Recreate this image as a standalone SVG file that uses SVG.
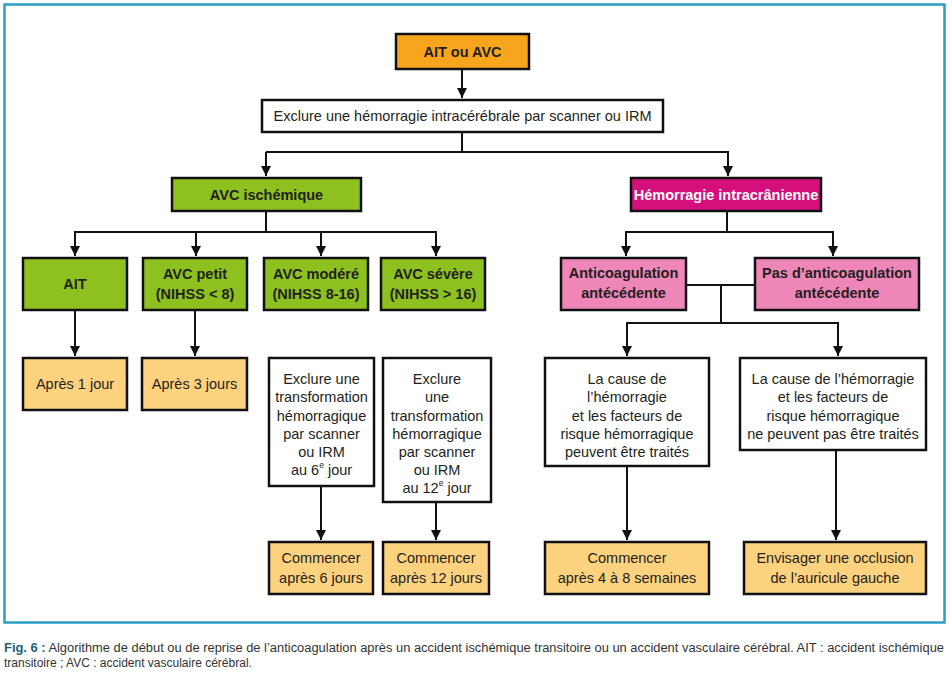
<svg xmlns="http://www.w3.org/2000/svg" width="952" height="677" viewBox="0 0 952 677">
<defs>
<marker id="ah" viewBox="0 0 10 10" refX="10" refY="5" markerWidth="10" markerHeight="10" markerUnits="userSpaceOnUse" orient="auto">
<path d="M0,0 L10,5 L0,10 z" fill="#111"/>
</marker>
<style>
.box{stroke:#111;stroke-width:2.5}
.w{fill:#fff}
.o{fill:#f6a51c}
.lo{fill:#fdd27f}
.g{fill:#8dc11f}
.m{fill:#d50f7c}
.p{fill:#ee87b7}
.t{font-family:"Liberation Sans",Arial,sans-serif;font-size:14.5px;fill:#231f20;text-anchor:middle;dominant-baseline:central}
.b{font-weight:bold}
.wt{fill:#fff}
.c{fill:none;stroke:#111;stroke-width:2}
.sup{font-size:8.5px}
.cap{font-family:"Liberation Sans",Arial,sans-serif;font-size:12px;fill:#333}
</style>
</defs>
<rect x="0" y="0" width="952" height="677" fill="#fff"/>
<rect x="4.5" y="4.5" width="940" height="618" fill="none" stroke="#2a9fc3" stroke-width="2.5"/>

<g id="connectors">
<path class="c" d="M462,69 V98" marker-end="url(#ah)"/>
<path class="c" d="M462,132 V152 M266,152 H728"/>
<path class="c" d="M266,152 V176" marker-end="url(#ah)"/>
<path class="c" d="M728,151 V176" marker-end="url(#ah)"/>
<path class="c" d="M266,211 V232 M75,232 H436"/>
<path class="c" d="M75,231 V256" marker-end="url(#ah)"/>
<path class="c" d="M196,231 V256" marker-end="url(#ah)"/>
<path class="c" d="M321,231 V256" marker-end="url(#ah)"/>
<path class="c" d="M436,231 V256" marker-end="url(#ah)"/>
<path class="c" d="M727,211 V232 M626,232 H833"/>
<path class="c" d="M626,231 V256" marker-end="url(#ah)"/>
<path class="c" d="M833,231 V256" marker-end="url(#ah)"/>
<path class="c" d="M686,285 H755 M721,285 V323 M626,323 H839"/>
<path class="c" d="M627,322 V356" marker-end="url(#ah)"/>
<path class="c" d="M838,322 V356" marker-end="url(#ah)"/>
<path class="c" d="M75,310 V356" marker-end="url(#ah)"/>
<path class="c" d="M195,310 V356" marker-end="url(#ah)"/>
<path class="c" d="M321,486 V540" marker-end="url(#ah)"/>
<path class="c" d="M436,502 V540" marker-end="url(#ah)"/>
<path class="c" d="M627,466 V540" marker-end="url(#ah)"/>
<path class="c" d="M836,450 V540" marker-end="url(#ah)"/>
</g>

<g id="n-start"><rect class="box o" x="396" y="34" width="133" height="35"/><text class="t b" x="462.5" y="51.5">AIT ou AVC</text></g>
<g id="n-exclure"><rect class="box w" x="262" y="100" width="401" height="32"/><text class="t" x="462.5" y="116">Exclure une hémorragie intracérébrale par scanner ou IRM</text></g>
<g id="n-isch"><rect class="box g" x="172" y="178" width="189" height="33"/><text class="t b" x="266.5" y="194.5">AVC ischémique</text></g>
<g id="n-hem"><rect class="box m" x="631" y="178" width="190" height="33"/><text class="t b wt" x="726" y="194.5">Hémorragie intracrânienne</text></g>

<g id="n-ait"><rect class="box g" x="23" y="258" width="104" height="52"/><text class="t b" x="75" y="284">AIT</text></g>
<g id="n-petit"><rect class="box g" x="143" y="258" width="104" height="52"/><text class="t b" x="195" y="274">AVC petit</text><text class="t b" x="195" y="294">(NIHSS &lt; 8)</text></g>
<g id="n-modere"><rect class="box g" x="264" y="258" width="104" height="52"/><text class="t b" x="316" y="274">AVC modéré</text><text class="t b" x="316" y="294">(NIHSS 8-16)</text></g>
<g id="n-severe"><rect class="box g" x="381" y="258" width="104" height="52"/><text class="t b" x="433" y="274">AVC sévère</text><text class="t b" x="433" y="294">(NIHSS &gt; 16)</text></g>

<g id="n-anti"><rect class="box p" x="561" y="258" width="125" height="52"/><text class="t b" x="623.5" y="273">Anticoagulation</text><text class="t b" x="623.5" y="293">antécédente</text></g>
<g id="n-pas"><rect class="box p" x="755" y="258" width="164" height="52"/><text class="t b" x="837" y="273">Pas d’anticoagulation</text><text class="t b" x="837" y="293">antécédente</text></g>

<g id="n-1j"><rect class="box lo" x="23" y="358" width="104" height="52"/><text class="t" x="75" y="384">Après 1 jour</text></g>
<g id="n-3j"><rect class="box lo" x="142" y="358" width="105" height="52"/><text class="t" x="194.5" y="384">Après 3 jours</text></g>

<g id="n-ex6"><rect class="box w" x="269" y="358" width="105" height="128"/>
<text class="t" x="321.5" y="379">Exclure une</text>
<text class="t" x="321.5" y="397">transformation</text>
<text class="t" x="321.5" y="416">hémorragique</text>
<text class="t" x="321.5" y="434">par scanner</text>
<text class="t" x="321.5" y="452">ou IRM</text>
<text class="t" x="321.5" y="470">au 6<tspan class="sup" dy="-5">e</tspan><tspan dy="5"> jour</tspan></text>
</g>
<g id="n-ex12"><rect class="box w" x="383" y="358" width="108" height="144"/>
<text class="t" x="437" y="379">Exclure</text>
<text class="t" x="437" y="397">une</text>
<text class="t" x="437" y="416">transformation</text>
<text class="t" x="437" y="434">hémorragique</text>
<text class="t" x="437" y="452">par scanner</text>
<text class="t" x="437" y="470">ou IRM</text>
<text class="t" x="437" y="488">au 12<tspan class="sup" dy="-5">e</tspan><tspan dy="5"> jour</tspan></text>
</g>

<g id="n-cause1"><rect class="box w" x="545" y="358" width="164" height="108"/>
<text class="t" x="627" y="379">La cause de</text>
<text class="t" x="627" y="397">l’hémorragie</text>
<text class="t" x="627" y="416">et les facteurs de</text>
<text class="t" x="627" y="434">risque hémorragique</text>
<text class="t" x="627" y="452">peuvent être traités</text>
</g>
<g id="n-cause2"><rect class="box w" x="740" y="358" width="186" height="92"/>
<text class="t" x="833" y="379">La cause de l’hémorragie</text>
<text class="t" x="833" y="397">et les facteurs de</text>
<text class="t" x="833" y="416">risque hémorragique</text>
<text class="t" x="833" y="434">ne peuvent pas être traités</text>
</g>

<g id="n-6j"><rect class="box lo" x="269" y="542" width="104" height="52"/><text class="t" x="321" y="558">Commencer</text><text class="t" x="321" y="578">après 6 jours</text></g>
<g id="n-12j"><rect class="box lo" x="383" y="542" width="106" height="52"/><text class="t" x="436" y="558">Commencer</text><text class="t" x="436" y="578">après 12 jours</text></g>
<g id="n-48s"><rect class="box lo" x="545" y="542" width="164" height="52"/><text class="t" x="627" y="558">Commencer</text><text class="t" x="627" y="578">après 4 à 8 semaines</text></g>
<g id="n-occl"><rect class="box lo" x="744" y="542" width="182" height="52"/><text class="t" x="835" y="558">Envisager une occlusion</text><text class="t" x="835" y="578">de l’auricule gauche</text></g>

<g id="caption">
<text class="cap" x="4" y="652" textLength="940" lengthAdjust="spacingAndGlyphs"><tspan font-weight="bold" fill="#1f5f7c">Fig. 6 :</tspan> Algorithme de début ou de reprise de l’anticoagulation après un accident ischémique transitoire ou un accident vasculaire cérébral. AIT : accident ischémique</text>
<text class="cap" x="4" y="667">transitoire ; AVC : accident vasculaire cérébral.</text>
</g>
</svg>
